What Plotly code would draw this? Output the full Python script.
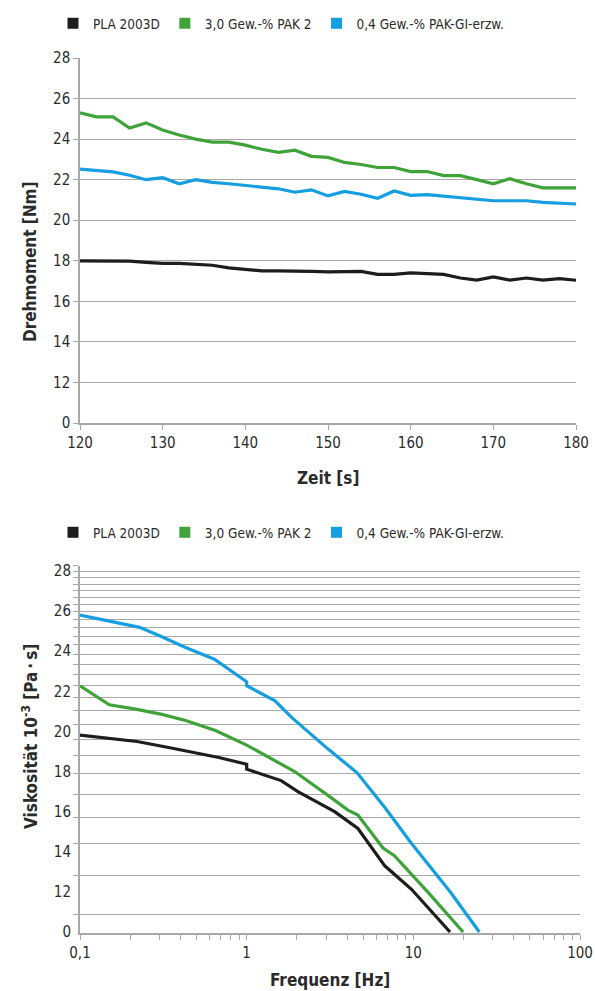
import plotly.graph_objects as go

# ---------------- data: top chart (Drehmoment vs Zeit) ----------------
zeit = [120, 122, 124, 126, 128, 130, 132, 134, 136, 138, 140, 142, 144, 146, 148, 150,
        152, 154, 156, 158, 160, 162, 164, 166, 168, 170, 172, 174, 176, 178, 180]
moment_pla = [18.0, 18.0, 18.0, 17.98, 17.92, 17.87, 17.87, 17.83, 17.78, 17.65, 17.57, 17.5,
              17.5, 17.5, 17.48, 17.45, 17.45, 17.48, 17.33, 17.33, 17.4, 17.35, 17.33, 17.15,
              17.05, 17.2, 17.05, 17.15, 17.05, 17.12, 17.04]
moment_pak2 = [25.3, 25.1, 25.1, 24.55, 24.8, 24.45, 24.2, 24.0, 23.85, 23.85, 23.7, 23.5,
               23.35, 23.45, 23.15, 23.1, 22.85, 22.75, 22.6, 22.6, 22.4, 22.4, 22.2, 22.2,
               22.0, 21.8, 22.05, 21.8, 21.6, 21.6, 21.6]
moment_gi = [22.52, 22.45, 22.38, 22.22, 22.0, 22.1, 21.8, 22.0, 21.87, 21.8, 21.72, 21.65,
             21.55, 21.38, 21.5, 21.2, 21.42, 21.28, 21.08, 21.44, 21.23, 21.26, 21.18, 21.1,
             21.03, 20.96, 20.96, 20.96, 20.88, 20.85, 20.8]

# ---------------- data: bottom chart (Viskosität vs Frequenz) ----------------
freq_pla = [0.1, 0.22, 0.34, 0.68, 1.0, 1.0, 1.61, 2.03, 3.37, 4.65, 6.74, 9.75, 16.6]
visk_pla = [19.82, 19.5, 19.2, 18.7, 18.37, 18.12, 17.55, 17.0, 16.0, 15.16, 13.3, 12.13, 10.0]
freq_pak2 = [0.1, 0.15, 0.22, 0.31, 0.43, 0.65, 1.0, 1.37, 1.94, 3.21, 4.05, 4.65, 6.58, 7.7, 12.3, 19.9]
visk_pak2 = [22.28, 21.33, 21.1, 20.85, 20.55, 20.05, 19.32, 18.7, 18.0, 16.7, 16.08, 15.83,
             14.19, 13.8, 11.96, 10.0]
freq_gi = [0.1, 0.228, 0.30, 0.43, 0.64, 0.75, 1.0, 1.0, 1.48, 1.86, 3.08, 4.6, 6.8, 9.6, 13.0, 16.8, 24.9]
visk_gi = [25.8, 25.19, 24.77, 24.19, 23.6, 23.2, 22.48, 22.28, 21.53, 20.7, 19.12, 17.94,
           16.17, 14.49, 13.14, 11.96, 10.0]

series_names = ["PLA 2003D", "3,0 Gew.-% PAK 2", "0,4 Gew.-% PAK-GI-erzw."]
series_colors = ["#1d1d1b", "#3fa33a", "#159ee0"]

# tick labels
y_tickvals = [10, 12, 14, 16, 18, 20, 22, 24, 26, 28]
y_ticktext = ["0", "12", "14", "16", "18", "20", "22", "24", "26", "28"]
x_top_ticks = [120, 130, 140, 150, 160, 170, 180]
grid_bottom = list(range(4, 31))
x_bottom_ticks = [0.1, 0.2, 0.3, 0.4, 0.5, 0.6, 0.7, 0.8, 0.9,
                  1, 2, 3, 4, 5, 6, 7, 8, 9,
                  10, 20, 30, 40, 50, 60, 70, 80, 90, 100]
x_bottom_labels = {0.1: "0,1", 1: "1", 10: "10", 100: "100"}

# ---------------- layout constants ----------------
W, H = 595, 991
FONT = "DejaVu Sans Condensed, Liberation Sans Narrow, Roboto, sans-serif"
TXT = "#2b2b2b"
GRID = "#a8a8a8"


def px_x(p):
    return p / W


def px_y(p):
    return 1 - p / H


fig = go.Figure()

for vals, name, col in zip([moment_pla, moment_pak2, moment_gi], series_names, series_colors):
    fig.add_trace(go.Scatter(x=zeit, y=vals, mode="lines", name=name, showlegend=False,
                             line=dict(color=col, width=3.2), xaxis="x", yaxis="y"))

for fx, vy, name, col in zip([freq_pla, freq_pak2, freq_gi], [visk_pla, visk_pak2, visk_gi],
                             series_names, series_colors):
    fig.add_trace(go.Scatter(x=fx, y=vy, mode="lines", name=name, showlegend=False,
                             line=dict(color=col, width=3.2), xaxis="x2", yaxis="y3"))

for lg in ["legend", "legend2"]:
    for name, col in zip(series_names, series_colors):
        fig.add_trace(go.Scatter(x=[None], y=[None], mode="markers", name=name,
                                 marker=dict(symbol="square", size=11, color=col),
                                 legend=lg, xaxis="x", yaxis="y"))

fig.add_trace(go.Scatter(x=[None], y=[None], xaxis="x2", yaxis="y2", showlegend=False))

axis_common = dict(showline=True, linecolor=GRID, linewidth=1.5, ticks="outside",
                   ticklen=5, tickcolor=GRID, tickwidth=1.3, automargin=False,
                   ticklabeloverflow="allow",
                   tickfont=dict(family=FONT, size=15, color=TXT), zeroline=False)

title_font = dict(family=FONT, size=17, color=TXT, weight="bold")

fig.update_layout(
    template="none",
    width=W, height=H, autosize=False,
    margin=dict(l=0, r=0, t=0, b=0, pad=0),
    paper_bgcolor="white", plot_bgcolor="white",
    font=dict(family=FONT, color=TXT),
    xaxis=dict(domain=[px_x(80), px_x(576)], range=[120, 180], anchor="y",
               tickvals=x_top_ticks, showgrid=False, **axis_common),
    yaxis=dict(domain=[px_y(423), px_y(58)], range=[10, 28], anchor="x",
               tickvals=y_tickvals, ticktext=y_ticktext, showgrid=True,
               gridcolor=GRID, gridwidth=1.3, **axis_common),
    xaxis2=dict(domain=[px_x(80), px_x(580)], type="log", range=[-1, 2], anchor="y2",
                tickvals=x_bottom_ticks,
                ticktext=[x_bottom_labels.get(v, "") for v in x_bottom_ticks],
                showgrid=False, **axis_common),
    yaxis2=dict(domain=[px_y(933), px_y(566)], type="log", range=[0.5543, 1.4771],
                anchor="x2", tickvals=grid_bottom, showticklabels=False,
                showgrid=True, gridcolor=GRID, gridwidth=1.3, **axis_common),
    yaxis3=dict(overlaying="y2", anchor="x2", side="left", range=[9.95, 28.25],
                tickvals=y_tickvals, ticktext=y_ticktext, showgrid=False, showline=False,
                zeroline=False, ticks="outside", ticklen=5, tickcolor="rgba(0,0,0,0)",
                automargin=False, tickfont=dict(family=FONT, size=15, color=TXT)),
    legend=dict(orientation="h", x=px_x(53), y=px_y(8), xanchor="left", yanchor="top",
                font=dict(family=FONT, size=13.5, color=TXT), itemwidth=30,
                bgcolor="rgba(0,0,0,0)"),
    legend2=dict(orientation="h", x=px_x(53), y=px_y(517), xanchor="left", yanchor="top",
                 font=dict(family=FONT, size=13.5, color=TXT), itemwidth=30,
                 bgcolor="rgba(0,0,0,0)"),
    annotations=[
        dict(text="Drehmoment [Nm]", x=px_x(30), y=px_y(262), xref="paper", yref="paper",
             xanchor="center", yanchor="middle", showarrow=False, textangle=-90,
             font=title_font),
        dict(text="Zeit [s]", x=px_x(328), y=px_y(478), xref="paper", yref="paper",
             xanchor="center", yanchor="middle", showarrow=False, font=title_font),
        dict(text="Viskosität 10<sup>-3</sup> [Pa\u2009·\u2009s]", x=px_x(30), y=px_y(737),
             xref="paper", yref="paper", xanchor="center", yanchor="middle",
             showarrow=False, textangle=-90, font=title_font),
        dict(text="Frequenz [Hz]", x=px_x(330), y=px_y(980), xref="paper", yref="paper",
             xanchor="center", yanchor="middle", showarrow=False, font=title_font),
    ],
)

fig.write_html("out.html", config={"displayModeBar": False},
               post_script="document.body.style.margin='0px';")
